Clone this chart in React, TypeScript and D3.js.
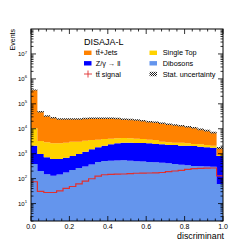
import React from "react";
import * as d3 from "d3";

// Histogram binning of the discriminant
const binLow = 0;
const binHigh = 1;
const nBins = 30;

// Stacked background components (events per bin), bottom to top
const dibosons = [386, 202, 149, 130, 147, 176, 222, 267, 307, 369, 465, 509, 524, 534, 544, 524, 500, 486, 465, 452, 436, 412, 386, 362, 343, 321, 313, 307, 298, 61];
const zll = [1704, 771, 569, 484, 467, 516, 587, 706, 893, 1131, 1345, 1581, 1856, 2076, 2216, 2236, 2190, 2204, 2145, 1998, 1944, 1818, 1844, 1728, 1747, 1719, 1597, 1503, 1442, 748];
const singleTop = [8310, 2257, 2142, 1996, 1996, 2068, 2221, 2057, 2120, 2040, 1830, 1790, 1620, 1530, 1500, 1380, 1310, 1190, 1030, 1090, 650, 630, 530, 670, 520, 410, 470, 420, 350, 78];
const ttJets = [347600, 45070, 29640, 25090, 21990, 21840, 21570, 21570, 22480, 22760, 22660, 22420, 22300, 21660, 19640, 19360, 18500, 17120, 15560, 14660, 13570, 12240, 11440, 10540, 9490, 8550, 7120, 6130, 4990, 803];
// Signal overlay (not stacked)
const ttSignal = [75, 31, 27.8, 27.8, 32.5, 41, 48.4, 62, 79, 99, 125, 143, 147, 151, 153, 158, 164, 166, 168, 171, 176, 190, 202, 216, 233, 251, 260, 262, 267, 128];
// Relative statistical uncertainty on the total
const statUnc = [0.05, 0.07, 0.07, 0.07, 0.07, 0.07, 0.07, 0.07, 0.07, 0.07, 0.07, 0.07, 0.07, 0.07, 0.07, 0.07, 0.07, 0.07, 0.07, 0.07, 0.07, 0.07, 0.07, 0.07, 0.07, 0.07, 0.08, 0.08, 0.08, 0.1];

const xTickValues = [0, 0.2, 0.4, 0.6, 0.8, 1.0];
const xTickLabels = ["0.0", "0.2", "0.4", "0.6", "0.8", "1.0"];
const yTickExponents = [1, 2, 3, 4, 5, 6, 7];

const seriesKeys = ["dib", "z", "st", "tt"];
const seriesColors: Record<string, string> = {
  dib: "#6495ed",
  z: "#0000ff",
  st: "#ffd200",
  tt: "#ff8200",
};

const FONT = "'Liberation Sans', Arial, Helvetica, sans-serif";

export default function App() {
  const W = 249, H = 249;
  const fx0 = 31, fx1 = 223, fy0 = 29, fy1 = 221;
  const yMin = 2, yMax = 1e8;
  const x = d3.scaleLinear().domain([binLow, binHigh]).range([fx0, fx1]);
  const y = d3.scaleLog().domain([yMin, yMax]).range([fy1, fy0]);
  const yc = (v: number) => y(Math.max(v, yMin));

  const edges = d3.range(nBins + 1).map((i) => binLow + ((binHigh - binLow) * i) / nBins);
  const rows = dibosons.map((_, i) => ({ dib: dibosons[i], z: zll[i], st: singleTop[i], tt: ttJets[i] }));
  const stacked = d3.stack<any>().keys(seriesKeys)(rows);

  const area = d3
    .area<{ x: number; y0: number; y1: number }>()
    .x((p) => p.x)
    .y0((p) => p.y0)
    .y1((p) => p.y1);
  const line = d3
    .line<{ x: number; y: number }>()
    .x((p) => p.x)
    .y((p) => p.y);

  const layerPath = (layer: any) => {
    const pts: { x: number; y0: number; y1: number }[] = [];
    layer.forEach((d: any, i: number) => {
      pts.push({ x: x(edges[i]), y0: yc(d[0]), y1: yc(d[1]) });
      pts.push({ x: x(edges[i + 1]), y0: yc(d[0]), y1: yc(d[1]) });
    });
    return area(pts) || "";
  };

  const totals = rows.map((r) => r.dib + r.z + r.st + r.tt);
  const bandPts: { x: number; y0: number; y1: number }[] = [];
  totals.forEach((t, i) => {
    const lo = yc(t * (1 - statUnc[i]));
    const hi = yc(t * (1 + statUnc[i]));
    bandPts.push({ x: x(edges[i]), y0: lo, y1: hi });
    bandPts.push({ x: x(edges[i + 1]), y0: lo, y1: hi });
  });

  const sigPts: { x: number; y: number }[] = [];
  ttSignal.forEach((v, i) => {
    sigPts.push({ x: x(edges[i]), y: yc(v) });
    sigPts.push({ x: x(edges[i + 1]), y: yc(v) });
  });

  // ticks
  const xMinor = d3.range(0, 26).map((i) => i * 0.04).filter((v) => v <= 1.0001 && Math.abs(v / 0.2 - Math.round(v / 0.2)) > 1e-6);
  const yMinor: number[] = [];
  for (let k = 0; k <= 7; k++) for (let j = 2; j <= 9; j++) {
    const v = j * Math.pow(10, k);
    if (v >= yMin && v <= yMax) yMinor.push(v);
  }
  const majL = 5, minL = 2.5;

  const legendRows = [
    { c1: { type: "box", color: seriesColors.tt, label: "t\u0074\u0304+Jets" }, c2: { type: "box", color: seriesColors.st, label: "Single Top" } },
    { c1: { type: "box", color: seriesColors.z, label: "Z/\u03b3  \u2192 ll" }, c2: { type: "box", color: seriesColors.dib, label: "Dibosons" } },
    { c1: { type: "cross", color: "#e03030", label: "t\u0074\u0304 signal" }, c2: { type: "hatch", color: "", label: "Stat. uncertainty" } },
  ];
  const legY = [52.8, 63.3, 74];

  return (
    <svg width={W} height={H} style={{ position: "absolute", left: 0, top: 0, background: "#fff" }} fontFamily={FONT}>
      <defs>
        <pattern id="hatch" width="2" height="2" patternUnits="userSpaceOnUse">
          <rect x="0" y="0" width="1" height="1" fill="#222" />
          <rect x="1" y="1" width="1" height="1" fill="#222" />
        </pattern>
        <clipPath id="frame">
          <rect x={fx0} y={fy0} width={fx1 - fx0} height={fy1 - fy0} />
        </clipPath>
      </defs>
      <rect width={W} height={H} fill="#fff" />
      <g clipPath="url(#frame)">
        {stacked.map((layer: any) => (
          <path key={layer.key} d={layerPath(layer)} fill={seriesColors[layer.key]} stroke="none" />
        ))}
        <path d={area(bandPts) || ""} fill="#cccccc" fillOpacity={0.6} />
        <path d={area(bandPts) || ""} fill="url(#hatch)" />
        <path d={line(sigPts) || ""} fill="none" stroke="#e03030" strokeWidth={1.2} />
      </g>

      {/* ticks */}
      <g stroke="#000" strokeWidth={0.8}>
        {xTickValues.map((v) => (
          <g key={"xt" + v}>
            <line x1={x(v)} x2={x(v)} y1={fy1} y2={fy1 - majL} />
            <line x1={x(v)} x2={x(v)} y1={fy0} y2={fy0 + majL} />
          </g>
        ))}
        {xMinor.map((v) => (
          <g key={"xm" + v}>
            <line x1={x(v)} x2={x(v)} y1={fy1} y2={fy1 - minL} />
            <line x1={x(v)} x2={x(v)} y1={fy0} y2={fy0 + minL} />
          </g>
        ))}
        {yTickExponents.map((k) => (
          <g key={"yt" + k}>
            <line x1={fx0} x2={fx0 + majL} y1={y(Math.pow(10, k))} y2={y(Math.pow(10, k))} />
            <line x1={fx1} x2={fx1 - majL} y1={y(Math.pow(10, k))} y2={y(Math.pow(10, k))} />
          </g>
        ))}
        {yMinor.map((v) => (
          <g key={"ym" + v}>
            <line x1={fx0} x2={fx0 + minL} y1={y(v)} y2={y(v)} />
            <line x1={fx1} x2={fx1 - minL} y1={y(v)} y2={y(v)} />
          </g>
        ))}
      </g>
      <rect x={fx0} y={fy0} width={fx1 - fx0} height={fy1 - fy0} fill="none" stroke="#000" strokeWidth={1} />

      {/* tick labels */}
      {xTickValues.map((v, i) => (
        <text key={"xl" + v} x={x(v)} y={228.7} fontSize={7} textAnchor="middle" fill="#000">
          {xTickLabels[i]}
        </text>
      ))}
      {yTickExponents.map((k) => (
        <text key={"yl" + k} x={27} y={y(Math.pow(10, k)) + 2.2} fontSize={6} textAnchor="end" fill="#000">
          10
          <tspan dy={-2.6} fontSize={4.2}>
            {k}
          </tspan>
        </text>
      ))}

      {/* axis titles */}
      <text x={224} y={238.5} fontSize={8.8} textAnchor="end" fill="#000">
        discriminant
      </text>
      <text transform={`translate(14.5,${fy0}) rotate(-90)`} fontSize={7} textAnchor="end" fill="#000">
        Events
      </text>

      {/* legend */}
      <text x={84} y={45} fontSize={9} fill="#000">
        DISAJA-L
      </text>
      {legendRows.map((r, i) => (
        <g key={"lg" + i}>
          {[r.c1, r.c2].map((c, j) => {
            const sx = j === 0 ? 84 : 149.5;
            const tx = j === 0 ? 95.7 : 162.7;
            const cy = legY[i];
            return (
              <g key={j}>
                {c.type === "box" && <rect x={sx} y={cy - 2.2} width={7.5} height={4.4} fill={c.color} />}
                {c.type === "hatch" && <rect x={sx} y={cy - 2.2} width={7.5} height={4.4} fill="url(#hatch)" />}
                {c.type === "cross" && (
                  <g stroke={c.color} strokeWidth={0.9}>
                    <line x1={sx} x2={sx + 8} y1={cy} y2={cy} />
                    <line x1={sx + 4} x2={sx + 4} y1={cy - 3.5} y2={cy + 3.5} />
                  </g>
                )}
                <text x={tx} y={cy + 2.6} fontSize={7.3} fill="#000">
                  {c.label}
                </text>
              </g>
            );
          })}
        </g>
      ))}
    </svg>
  );
}
